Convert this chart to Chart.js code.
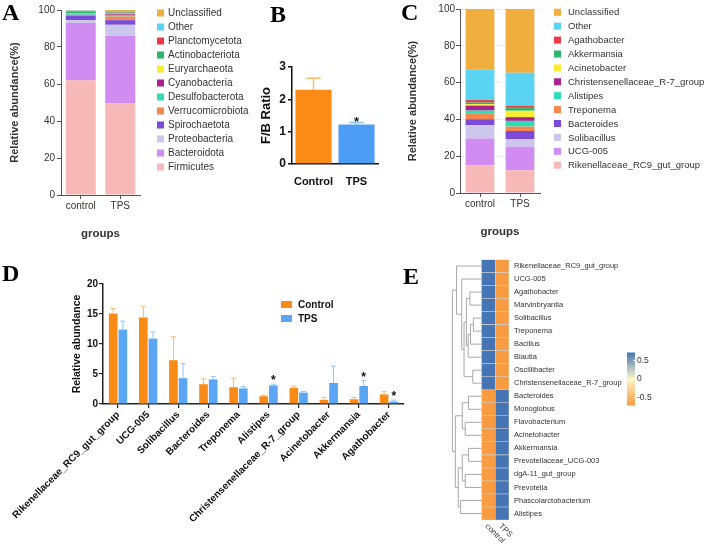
<!DOCTYPE html>
<html><head><meta charset="utf-8"><title>Microbiota figure</title>
<script src="https://cdn.jsdelivr.net/npm/chart.js@4.4.1/dist/chart.umd.min.js"></script>
<style>
html,body{margin:0;padding:0;background:#fff;}
body{width:708px;height:548px;position:relative;overflow:hidden;}
canvas{position:absolute;}
.tag{position:absolute;font-family:'Liberation Serif','Times New Roman',serif;font-weight:bold;font-size:24px;line-height:24px;color:#000;}
</style></head><body>
<canvas id="cA" width="260" height="245" style="left:0px;top:0px"></canvas>
<canvas id="cB" width="150" height="150" style="left:250px;top:40px"></canvas>
<canvas id="cC" width="308" height="245" style="left:400px;top:0px"></canvas>
<canvas id="cD" width="420" height="278" style="left:0px;top:270px"></canvas>
<canvas id="cE" width="308" height="298" style="left:400px;top:250px"></canvas>
<div class="tag" style="left:2px;top:0px">A</div>
<div class="tag" style="left:270px;top:2px">B</div>
<div class="tag" style="left:401px;top:0px">C</div>
<div class="tag" style="left:2px;top:261px">D</div>
<div class="tag" style="left:403px;top:264px">E</div>
<script>
// ---------- DATA ----------
const groupsAC = ['control', 'TPS'];

// Panel A: phylum level (stack order bottom -> top)
const phylumNames = ['Firmicutes','Bacteroidota','Proteobacteria','Spirochaetota','Verrucomicrobiota','Desulfobacterota','Cyanobacteria','Euryarchaeota','Actinobacteriota','Planctomycetota','Other','Unclassified'];
const phylumControl = [62.0, 31.0, 1.5, 2.5, 0.3, 0.3, 0.4, 0.3, 0.8, 0.3, 0.3, 0.3];
const phylumTPS     = [49.5, 36.5, 6.0, 2.5, 2.0, 0.8, 0.4, 0.3, 0.7, 0.3, 0.5, 0.5];

// Panel B: F/B ratio
const bGroups = ['Control', 'TPS'];
const bRatio = [2.3, 1.22];
const bErr   = [0.35, 0.06];
const bSig   = ['', '*'];

// Panel C: genus level (stack order bottom -> top)
const genusNames = ['Rikenellaceae_RC9_gut_group','UCG-005','Solibacillus','Bacteroides','Treponema','Alistipes','Christensenellaceae_R-7_group','Acinetobacter','Akkermansia','Agathobacter','Other','Unclassified'];
const genusControl = [15.1, 14.5, 7.3, 3.2, 2.9, 1.8, 2.7, 0.8, 0.9, 1.3, 16.5, 33.0];
const genusTPS     = [12.3, 12.9, 4.1, 4.4, 2.4, 3.1, 2.0, 3.5, 2.0, 0.6, 18.1, 34.6];

// Panel D: differential genera
const dGenera = ['Rikenellaceae_RC9_gut_group','UCG-005','Solibacillus','Bacteroides','Treponema','Alistipes','Christensenellaceae_R-7_group','Acinetobacter','Akkermansia','Agathobacter'];
const dControl    = [15.1, 14.4, 7.3, 3.3, 2.8, 1.3, 2.7, 0.7, 0.8, 1.6];
const dControlErr = [0.8, 1.9, 3.9, 0.9, 1.5, 0.15, 0.3, 0.4, 0.3, 0.45];
const dTPS        = [12.4, 10.9, 4.3, 4.1, 2.6, 3.1, 1.9, 3.5, 3.0, 0.4];
const dTPSErr     = [1.4, 1.1, 2.4, 0.5, 0.3, 0.2, 0.2, 2.8, 0.9, 0.25];
const dSigTPS     = ['', '', '', '', '', '*', '', '', '*', '*'];

// Panel E: heatmap (z-scores) + clustering
const heatRows = ['Rikenellaceae_RC9_gut_group','UCG-005','Agathobacter','Marvinbryantia','Solibacillus','Treponema','Bacillus','Blautia','Oscillibacter','Christensenellaceae_R-7_group','Bacteroides','Monoglobus','Flavobacterium','Acinetobacter','Akkermansia','Prevotellaceae_UCG-003','dgA-11_gut_group','Prevotella','Phascolarctobacterium','Alistipes'];
const heatCols = ['control', 'TPS'];
const heatControl = [0.71,0.71,0.71,0.71,0.71,0.71,0.71,0.71,0.71,0.71,-0.71,-0.71,-0.71,-0.71,-0.71,-0.71,-0.71,-0.71,-0.71,-0.71];
const heatTPS     = [-0.71,-0.71,-0.71,-0.71,-0.71,-0.71,-0.71,-0.71,-0.71,-0.71,0.71,0.71,0.71,0.71,0.71,0.71,0.71,0.71,0.71,0.71];
const heatCell    = [1,1,1,1,1,1,1,1,1,1,1,1,1,1,1,1,1,1,1,1];
const colorbarTicks = [0.5, 0, -0.5];
// linkage: [childA, childB, height]; leaves 0..19, merged nodes numbered from 20
const dendroMerges = [
  [8, 9, 0.30], [4, 5, 0.28], [21, 6, 0.38], [22, 7, 0.46], [2, 3, 0.40],
  [24, 23, 0.52], [25, 20, 0.60], [1, 26, 0.68], [0, 27, 0.86],
  [10, 11, 0.45], [12, 13, 0.56], [29, 30, 0.66], [14, 15, 0.45], [16, 17, 0.56],
  [32, 33, 0.66], [18, 19, 0.72], [34, 35, 0.80], [31, 36, 0.90], [28, 37, 1.0]
];

// ---------- STYLE ----------
const stackColors = ['#F7B8B8','#D08CF0','#CBC6EB','#7B4AD6','#F5874F','#2EDDB6','#A8238F','#F8EC35','#2DB56A','#EF3A45','#5BD3F3','#F0AE3E'];
const FONT = "'Liberation Sans', Arial, Helvetica, sans-serif";
Chart.defaults.font.family = FONT;
Chart.defaults.animation = false;
Chart.defaults.responsive = false;
Chart.defaults.plugins.legend.display = false;
Chart.defaults.plugins.tooltip.enabled = false;

// ---------- PLUGINS ----------
const boxLegend = {
  id: 'boxLegend',
  afterDraw(chart, args, o) {
    if (!o || !o.show) return;
    const ctx = chart.ctx, ca = chart.chartArea;
    let ds = chart.data.datasets.slice();
    if (o.reverse) ds.reverse();
    ctx.save();
    ctx.font = o.font; ctx.textBaseline = 'middle'; ctx.textAlign = 'left';
    ds.forEach((d, i) => {
      const x = (o.anchor === 'right' ? ca.right : ca.left) + o.dx;
      const y = ca.top + o.dy + i * o.spacing;
      ctx.fillStyle = d.backgroundColor;
      ctx.fillRect(x, y - o.boxH / 2, o.boxW, o.boxH);
      ctx.fillStyle = o.color;
      ctx.fillText(d.label, x + o.boxW + o.gap, y + 0.5);
    });
    ctx.restore();
  }
};

const errBars = {
  id: 'errBars',
  afterDatasetsDraw(chart, args, o) {
    const ctx = chart.ctx, ys = chart.scales.y;
    chart.data.datasets.forEach((ds, di) => {
      if (!ds.errors) return;
      const meta = chart.getDatasetMeta(di);
      meta.data.forEach((bar, i) => {
        const top = ys.getPixelForValue(ds.data[i] + ds.errors[i]);
        const col = Array.isArray(ds.errorColor) ? ds.errorColor[i] : ds.errorColor;
        const half = bar.width * o.cap / 2;
        ctx.save();
        ctx.strokeStyle = col; ctx.lineWidth = o.width;
        ctx.beginPath();
        ctx.moveTo(bar.x, bar.y); ctx.lineTo(bar.x, top);
        ctx.moveTo(bar.x - half, top); ctx.lineTo(bar.x + half, top);
        ctx.stroke();
        if (ds.sig && ds.sig[i]) {
          ctx.fillStyle = o.sigColor; ctx.font = o.sigFont;
          ctx.textAlign = 'center'; ctx.textBaseline = 'alphabetic';
          ctx.fillText(ds.sig[i], bar.x, top + o.sigDy);
        }
        ctx.restore();
      });
    });
  }
};

const heatMin = Math.min(...heatControl, ...heatTPS);
const heatMax = Math.max(...heatControl, ...heatTPS);
const heatStops = [[0, [249, 155, 64]], [0.5, [252, 248, 200]], [1, [69, 117, 180]]];
function heatColor(v) {
  const t = (v - heatMin) / (heatMax - heatMin);
  for (let k = 1; k < heatStops.length; k++) {
    if (t <= heatStops[k][0]) {
      const a = heatStops[k - 1], b = heatStops[k];
      const f = (t - a[0]) / (b[0] - a[0]);
      const c = a[1].map((x, j) => Math.round(x + (b[1][j] - x) * f));
      return 'rgb(' + c.join(',') + ')';
    }
  }
  return 'rgb(' + heatStops[heatStops.length - 1][1].join(',') + ')';
}

const heatExtras = {
  id: 'heatExtras',
  afterDraw(chart, args, o) {
    const ctx = chart.ctx, ca = chart.chartArea, xs = chart.scales.x, ys = chart.scales.y;
    // dendrogram
    const nodes = [];
    heatRows.forEach((r, i) => { nodes[i] = { x: xs.getPixelForValue(0), y: ys.getPixelForValue(i) }; });
    ctx.save();
    ctx.strokeStyle = o.treeColor; ctx.lineWidth = 1;
    ctx.beginPath();
    dendroMerges.forEach((m, k) => {
      const a = nodes[m[0]], b = nodes[m[1]];
      const x = xs.getPixelForValue(-m[2] * o.treeDepth);
      ctx.moveTo(a.x, a.y); ctx.lineTo(x, a.y); ctx.lineTo(x, b.y); ctx.lineTo(b.x, b.y);
      nodes[heatRows.length + k] = { x: x, y: (a.y + b.y) / 2 };
    });
    ctx.stroke();
    ctx.restore();
    // column labels (rotated)
    ctx.save();
    ctx.fillStyle = o.labelColor; ctx.font = o.colFont;
    ctx.textAlign = 'left'; ctx.textBaseline = 'middle';
    heatCols.forEach((c, j) => {
      const cx = xs.getPixelForValue(j + 0.5);
      ctx.save();
      ctx.translate(cx - 2, ca.bottom + 5);
      ctx.rotate(Math.PI / 4);
      ctx.fillText(c, 0, 0);
      ctx.restore();
    });
    ctx.restore();
    // colour bar
    const x0 = ca.right + o.barDx, y0 = ca.top + o.barDy, w = o.barW, h = o.barH;
    const g = ctx.createLinearGradient(0, y0, 0, y0 + h);
    heatStops.forEach(s => g.addColorStop(1 - s[0], 'rgb(' + s[1].join(',') + ')'));
    ctx.save();
    ctx.fillStyle = g; ctx.fillRect(x0, y0, w, h);
    ctx.font = o.barFont; ctx.fillStyle = o.labelColor; ctx.textAlign = 'left'; ctx.textBaseline = 'middle';
    colorbarTicks.forEach(v => {
      const y = y0 + (heatMax - v) / (heatMax - heatMin) * h;
      ctx.strokeStyle = 'rgba(255,255,255,0.9)'; ctx.lineWidth = 1;
      ctx.beginPath(); ctx.moveTo(x0 + w - 2, y); ctx.lineTo(x0 + w, y); ctx.stroke();
      ctx.fillText(String(v), x0 + w + 2, y);
    });
    ctx.restore();
  }
};

// ---------- PANEL A ----------
const grayAxis = '#555';
new Chart(document.getElementById('cA'), {
  type: 'bar',
  data: {
    labels: groupsAC,
    datasets: phylumNames.map((n, i) => ({
      label: n, data: [phylumControl[i], phylumTPS[i]], backgroundColor: stackColors[i],
      borderWidth: 0, barPercentage: 0.76, categoryPercentage: 1
    }))
  },
  options: {
    layout: { padding: { left: 0, top: 10, right: 120, bottom: 0 } },
    scales: {
      x: { stacked: true,
        grid: { drawOnChartArea: false, drawTicks: true, tickLength: 4, offset: false, color: grayAxis },
        border: { color: grayAxis, width: 1 },
        ticks: { color: '#333', font: { size: 10 }, padding: 1 },
        title: { display: true, text: 'groups', color: '#333', font: { size: 11.5, weight: 'bold' }, padding: { top: 0, bottom: 4 } },
        afterFit: s => { s.height = 50; } },
      y: { stacked: true, min: 0, max: 100,
        ticks: { stepSize: 20, color: '#333', font: { size: 10 }, padding: 2 },
        grid: { drawOnChartArea: false, tickLength: 4, color: grayAxis },
        border: { color: grayAxis, width: 1 },
        title: { display: true, text: 'Relative abundance(%)', color: '#333', font: { size: 11, weight: 'bold' }, padding: { top: 8, bottom: 0 } },
        afterFit: s => { s.width = 61; } }
    },
    plugins: { boxLegend: { show: true, reverse: true, anchor: 'right', dx: 17, dy: 3, spacing: 14, boxW: 7, boxH: 7, gap: 4, font: '10px ' + FONT, color: '#333' } }
  },
  plugins: [boxLegend]
});

// ---------- PANEL B ----------
new Chart(document.getElementById('cB'), {
  type: 'bar',
  data: {
    labels: bGroups,
    datasets: [{ label: 'F/B Ratio', data: bRatio, errors: bErr, sig: bSig,
      backgroundColor: ['#F98B16', '#4E9DF5'], errorColor: ['#F8BA6E', '#8EC4F8'],
      borderWidth: 0, barPercentage: 0.84, categoryPercentage: 1 }]
  },
  options: {
    layout: { padding: { left: 0, top: 27, right: 22, bottom: 0 } },
    scales: {
      x: { grid: { display: false }, border: { color: '#111', width: 1.5 },
        ticks: { color: '#111', font: { size: 11, weight: 'bold' }, padding: 3, minRotation: 0, maxRotation: 0, autoSkip: false },
        afterFit: s => { s.height = 26; } },
      y: { min: 0, max: 3, ticks: { stepSize: 1, color: '#111', font: { size: 12, weight: 'bold' }, padding: 2 },
        grid: { drawOnChartArea: false, tickLength: 4, color: '#111', lineWidth: 1.5 },
        border: { color: '#111', width: 1.5 },
        title: { display: true, text: 'F/B Ratio', color: '#111', font: { size: 13, weight: 'bold' }, padding: { top: 9, bottom: 0 } },
        afterFit: s => { s.width = 42; } }
    },
    plugins: { errBars: { width: 1.5, cap: 0.4, sigColor: '#111', sigFont: 'bold 13px ' + FONT, sigDy: 3 } }
  },
  plugins: [errBars]
});

// ---------- PANEL C ----------
new Chart(document.getElementById('cC'), {
  type: 'bar',
  data: {
    labels: groupsAC,
    datasets: genusNames.map((n, i) => ({
      label: n, data: [genusControl[i], genusTPS[i]], backgroundColor: stackColors[i],
      borderWidth: 0, barPercentage: 0.72, categoryPercentage: 1
    }))
  },
  options: {
    layout: { padding: { left: 0, top: 9, right: 168, bottom: 0 } },
    scales: {
      x: { stacked: true,
        grid: { drawOnChartArea: false, drawTicks: true, tickLength: 4, offset: false, color: grayAxis },
        border: { color: grayAxis, width: 1 },
        ticks: { color: '#333', font: { size: 10 }, padding: 1 },
        title: { display: true, text: 'groups', color: '#333', font: { size: 11.5, weight: 'bold' }, padding: { top: 0, bottom: 6 } },
        afterFit: s => { s.height = 52; } },
      y: { stacked: true, min: 0, max: 100,
        ticks: { stepSize: 20, color: '#333', font: { size: 10 }, padding: 1 },
        grid: { drawOnChartArea: true, tickLength: 4, color: '#e4e4e4', tickColor: grayAxis },
        border: { color: grayAxis, width: 1, dash: [4, 3] },
        title: { display: true, text: 'Relative abundance(%)', color: '#333', font: { size: 11, weight: 'bold' }, padding: { top: 6, bottom: 0 } },
        afterFit: s => { s.width = 60; } }
    },
    plugins: { boxLegend: { show: true, reverse: true, anchor: 'right', dx: 14, dy: 3.3, spacing: 13.9, boxW: 7, boxH: 7, gap: 7, font: '9.5px ' + FONT, color: '#333' } }
  },
  plugins: [boxLegend]
});

// ---------- PANEL D ----------
new Chart(document.getElementById('cD'), {
  type: 'bar',
  data: {
    labels: dGenera,
    datasets: [
      { label: 'Control', data: dControl, errors: dControlErr, backgroundColor: '#F98B16', errorColor: '#F8BA6E', borderWidth: 0, barPercentage: 0.9, categoryPercentage: 0.64 },
      { label: 'TPS', data: dTPS, errors: dTPSErr, sig: dSigTPS, backgroundColor: '#5AA5F4', errorColor: '#8EC4F8', borderWidth: 0, barPercentage: 0.9, categoryPercentage: 0.64 }
    ]
  },
  options: {
    layout: { padding: { left: 0, top: 14, right: 16, bottom: 0 } },
    scales: {
      x: { grid: { drawOnChartArea: false, tickLength: 4, offset: false, color: '#222', lineWidth: 1.2 },
        border: { color: '#222', width: 1.5 },
        ticks: { color: '#111', font: { size: 10, weight: 'bold' }, minRotation: 45, maxRotation: 45, autoSkip: false, padding: 1 },
        afterFit: s => { s.height = 144; } },
      y: { min: 0, max: 20, ticks: { stepSize: 5, color: '#111', font: { size: 10, weight: 'bold' }, padding: 1 },
        grid: { drawOnChartArea: false, tickLength: 4, color: '#222', lineWidth: 1.2 },
        border: { color: '#222', width: 1.5 },
        title: { display: true, text: 'Relative abundance', color: '#111', font: { size: 10.5, weight: 'bold' }, padding: { top: 71, bottom: 0 } },
        afterFit: s => { s.width = 103; } }
    },
    plugins: {
      errBars: { width: 1, cap: 0.6, sigColor: '#111', sigFont: 'bold 12px ' + FONT, sigDy: 0 },
      boxLegend: { show: true, reverse: false, anchor: 'left', dx: 178, dy: 20.5, spacing: 14, boxW: 11, boxH: 7, gap: 6, font: 'bold 10px ' + FONT, color: '#111' }
    }
  },
  plugins: [errBars, boxLegend]
});

// ---------- PANEL E ----------
new Chart(document.getElementById('cE'), {
  type: 'bar',
  data: {
    labels: heatRows,
    datasets: [
      { label: heatCols[0], data: heatCell, values: heatControl, backgroundColor: c => heatColor(heatControl[c.dataIndex]),
        borderColor: 'rgba(205,205,205,0.9)', borderWidth: 0.6, barPercentage: 1, categoryPercentage: 1 },
      { label: heatCols[1], data: heatCell, values: heatTPS, backgroundColor: c => heatColor(heatTPS[c.dataIndex]),
        borderColor: 'rgba(205,205,205,0.9)', borderWidth: 0.6, barPercentage: 1, categoryPercentage: 1 }
    ]
  },
  options: {
    indexAxis: 'y',
    layout: { padding: { left: 52, top: 7, right: 0, bottom: 28 } },
    scales: {
      x: { type: 'linear', min: -2.15, max: 2, stacked: true, display: false },
      y: { position: 'right', stacked: true,
        grid: { display: false, drawTicks: false }, border: { display: false },
        ticks: { autoSkip: false, color: '#333', font: { size: 7.5 }, padding: 5 },
        afterFit: s => { s.width = 199; } }
    },
    plugins: {
      heatExtras: { treeColor: '#a8a8a8', treeDepth: 2.12, labelColor: '#333', colFont: '8px ' + FONT,
        barDx: 118, barDy: 93, barW: 8, barH: 53, barFont: '8.5px ' + FONT }
    }
  },
  plugins: [heatExtras]
});
</script>
</body></html>
